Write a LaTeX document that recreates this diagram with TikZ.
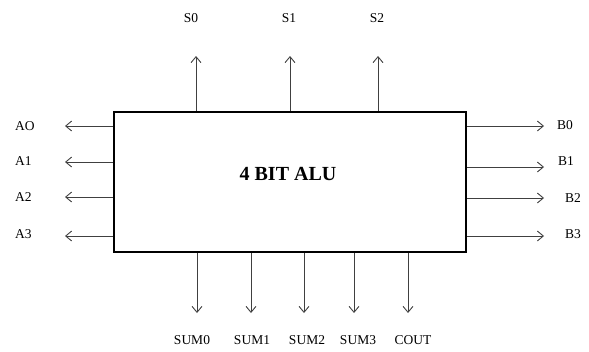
\documentclass[tikz,border=0pt]{standalone}
\usepackage{fontspec}
\setmainfont{Liberation Serif}
\usetikzlibrary{arrows.meta}
\tikzset{
  alubox/.style={draw=black, line width=2.8pt, minimum width=352pt, minimum height=140pt, inner sep=0pt},
  sig/.style={draw=black!75, line width=0.9pt, -{Straight Barb[length=6pt,width=10pt,line width=0.9pt]}},
  lbl/.style={font=\fontsize{13.5}{15}\selectfont, inner sep=1pt},
  ttl/.style={font=\fontsize{20}{24}\selectfont\bfseries}
}
\begin{document}
\begin{tikzpicture}[x=1pt,y=-1pt]
\useasboundingbox (0,0) rectangle (589,351);
\node[alubox] (alu) at (290,182) {};
\node[ttl] (title) at (288,174) {4 BIT ALU};
% top
\coordinate (s0t) at (196,56);
\coordinate (s1t) at (290,56);
\coordinate (s2t) at (378,56);
\node[lbl] (s0) at (191,18) {S0};
\node[lbl] (s1) at (289,18) {S1};
\node[lbl] (s2) at (377,18) {S2};
\draw[sig] (alu.north -| s0t) -- (s0t);
\draw[sig] (alu.north -| s1t) -- (s1t);
\draw[sig] (alu.north -| s2t) -- (s2t);
% left
\coordinate (a0t) at (65,126);
\coordinate (a1t) at (65,162);
\coordinate (a2t) at (65,197);
\coordinate (a3t) at (65,236);
\node[lbl,anchor=west] (a0) at (14,126) {AO};
\node[lbl,anchor=west] (a1) at (14,161) {A1};
\node[lbl,anchor=west] (a2) at (14,197) {A2};
\node[lbl,anchor=west] (a3) at (14,234) {A3};
\draw[sig] (alu.west |- a0t) -- (a0t);
\draw[sig] (alu.west |- a1t) -- (a1t);
\draw[sig] (alu.west |- a2t) -- (a2t);
\draw[sig] (alu.west |- a3t) -- (a3t);
% right
\coordinate (b0t) at (544,126);
\coordinate (b1t) at (544,167);
\coordinate (b2t) at (544,198);
\coordinate (b3t) at (544,236);
\node[lbl,anchor=west] (b0) at (556,125) {B0};
\node[lbl,anchor=west] (b1) at (557,161) {B1};
\node[lbl,anchor=west] (b2) at (564,198) {B2};
\node[lbl,anchor=west] (b3) at (564,234) {B3};
\draw[sig] (alu.east |- b0t) -- (b0t);
\draw[sig] (alu.east |- b1t) -- (b1t);
\draw[sig] (alu.east |- b2t) -- (b2t);
\draw[sig] (alu.east |- b3t) -- (b3t);
% bottom
\coordinate (m0t) at (197,313);
\coordinate (m1t) at (251,313);
\coordinate (m2t) at (304,313);
\coordinate (m3t) at (354,313);
\coordinate (ct) at (408,313);
\node[lbl] (m0) at (192,340) {SUM0};
\node[lbl] (m1) at (252,340) {SUM1};
\node[lbl] (m2) at (307,340) {SUM2};
\node[lbl] (m3) at (358,340) {SUM3};
\node[lbl] (co) at (413,340) {COUT};
\draw[sig] (alu.south -| m0t) -- (m0t);
\draw[sig] (alu.south -| m1t) -- (m1t);
\draw[sig] (alu.south -| m2t) -- (m2t);
\draw[sig] (alu.south -| m3t) -- (m3t);
\draw[sig] (alu.south -| ct) -- (ct);
\end{tikzpicture}
\end{document}
